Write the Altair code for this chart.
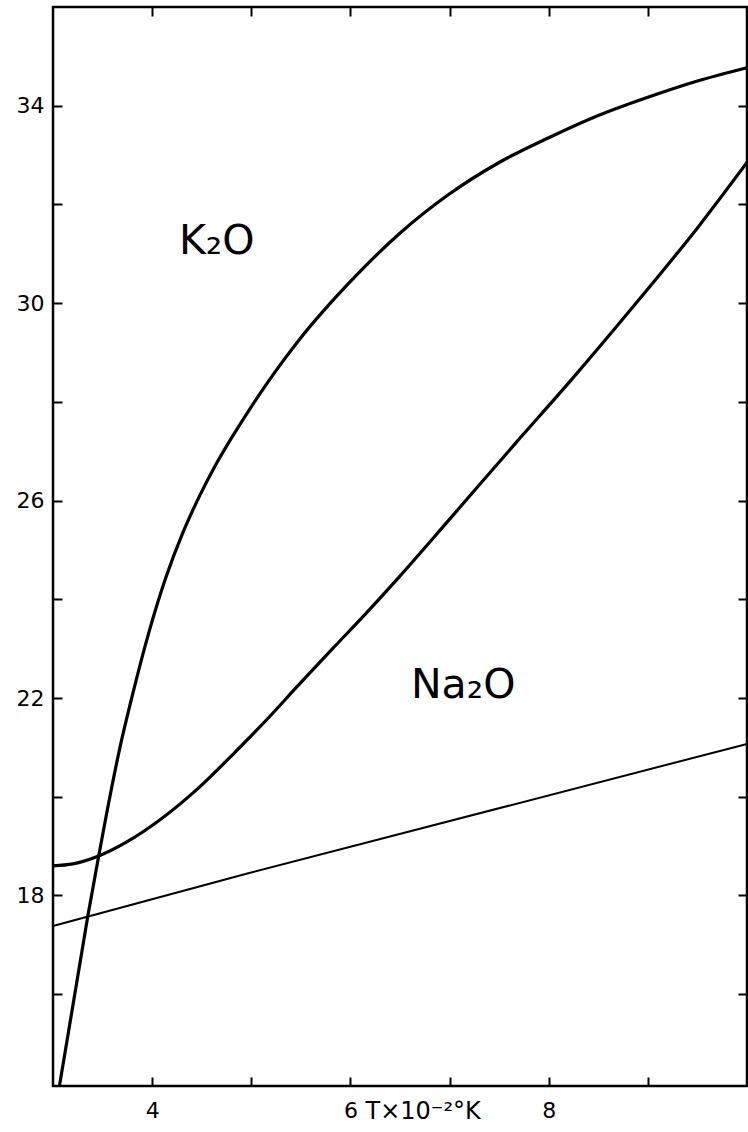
import altair as alt
import pandas as pd

# K2O curve (T x 1e-2 K, value)
k2o_t = [3.065, 3.35, 3.46, 3.54, 3.67, 3.80, 3.97, 4.14, 4.31, 4.48, 4.64, 4.81, 4.98, 5.15,
         5.31, 5.48, 5.82, 6.15, 6.49, 6.99, 7.5, 8.0, 8.5, 9.0, 9.5, 10.0]
k2o_v = [14.14, 17.57, 18.79, 19.65, 20.95, 22.05, 23.35, 24.45, 25.35, 26.1, 26.72, 27.3, 27.84, 28.35,
         28.8, 29.25, 30.05, 30.75, 31.4, 32.2, 32.85, 33.35, 33.8, 34.17, 34.5, 34.77]

# Na2O curve
na2o_t = [3.0, 3.2, 3.46, 3.74, 4.09, 4.48, 4.81, 5.15, 5.48, 5.82, 6.15, 6.49, 6.99,
          7.66, 8.23, 8.84, 9.51, 10.0]
na2o_v = [18.6, 18.64, 18.8, 19.08, 19.55, 20.2, 20.85, 21.55, 22.27, 23.0, 23.7, 24.45, 25.6,
          27.15, 28.45, 29.9, 31.55, 32.85]

# straight line
line_t = [3.0, 4.97, 10.0]
line_v = [17.38, 18.45, 21.07]

# labels
lab_text = ["K₂O", "Na₂O"]
lab_t = [4.27, 6.61]
lab_v = [31.0, 22.0]

x_ticks = [4, 5, 6, 7, 8, 9]
y_ticks = [16, 18, 20, 22, 24, 26, 28, 30, 32, 34]
x_domain = [3, 10]
y_domain = [14.14, 36]

FONT = "DejaVu Sans"

curves = pd.concat([
    pd.DataFrame({"T": k2o_t, "v": k2o_v, "s": "K2O"}),
    pd.DataFrame({"T": na2o_t, "v": na2o_v, "s": "Na2O"}),
])
straight = pd.DataFrame({"T": line_t, "v": line_v})
labels = pd.DataFrame({"T": lab_t, "v": lab_v, "text": lab_text})

xs = alt.Scale(domain=x_domain, nice=False, zero=False)
ys = alt.Scale(domain=y_domain, nice=False, zero=False)

ax_bottom = alt.Axis(
    values=x_ticks, offset=-9, tickSize=9, tickWidth=2, tickColor="black",
    domain=False, grid=False,
    labelExpr="(datum.value == 4 || datum.value == 6 || datum.value == 8) ? datum.label : ''",
    labelPadding=14, labelFont=FONT, labelFontSize=22, labelColor="black",
    title="T×10⁻²°K", titleFont=FONT, titleFontSize=24, titleFontWeight="normal",
    titleColor="black", titleX=312, titleY=41, titleAlign="left",
    titleBaseline="alphabetic", titleAngle=0,
)
ax_left = alt.Axis(
    values=y_ticks, offset=-9, tickSize=9, tickWidth=2, tickColor="black",
    domain=False, grid=False,
    labelExpr="(datum.value % 4 == 2) ? datum.label : ''",
    labelPadding=9, labelFont=FONT, labelFontSize=22, labelColor="black",
    title=None,
)
ax_top = alt.Axis(
    orient="top", values=x_ticks, offset=-9, tickSize=9, tickWidth=2, tickColor="black",
    domain=False, grid=False, labels=False, title=None,
)
ax_right = alt.Axis(
    orient="right", values=y_ticks, offset=-9, tickSize=9, tickWidth=2, tickColor="black",
    domain=False, grid=False, labels=False, title=None,
)

curve_layer = alt.Chart(curves).mark_line(
    color="black", strokeWidth=3.2, interpolate="monotone"
).encode(
    x=alt.X("T:Q", scale=xs, axis=ax_bottom),
    y=alt.Y("v:Q", scale=ys, axis=ax_left),
    detail="s:N",
)

line_layer = alt.Chart(straight).mark_line(color="black", strokeWidth=2).encode(
    x=alt.X("T:Q", scale=xs, axis=ax_top),
    y=alt.Y("v:Q", scale=ys, axis=ax_right),
)

text_layer = alt.Chart(labels).mark_text(
    font=FONT, fontSize=41, align="left", baseline="alphabetic", color="black"
).encode(
    x=alt.X("T:Q", scale=xs, axis=None),
    y=alt.Y("v:Q", scale=ys, axis=None),
    text="text:N",
)

chart = alt.layer(curve_layer, line_layer, text_layer).resolve_axis(
    x="independent", y="independent"
).properties(
    width=694, height=1079,
    padding={"left": 53, "top": 7, "right": 1, "bottom": 46},
    autosize=alt.AutoSizeParams(type="none"),
    background="white",
).configure_view(stroke="black", strokeWidth=2.5)

chart.save("out.html", embed_options={"renderer": "svg", "actions": False})
